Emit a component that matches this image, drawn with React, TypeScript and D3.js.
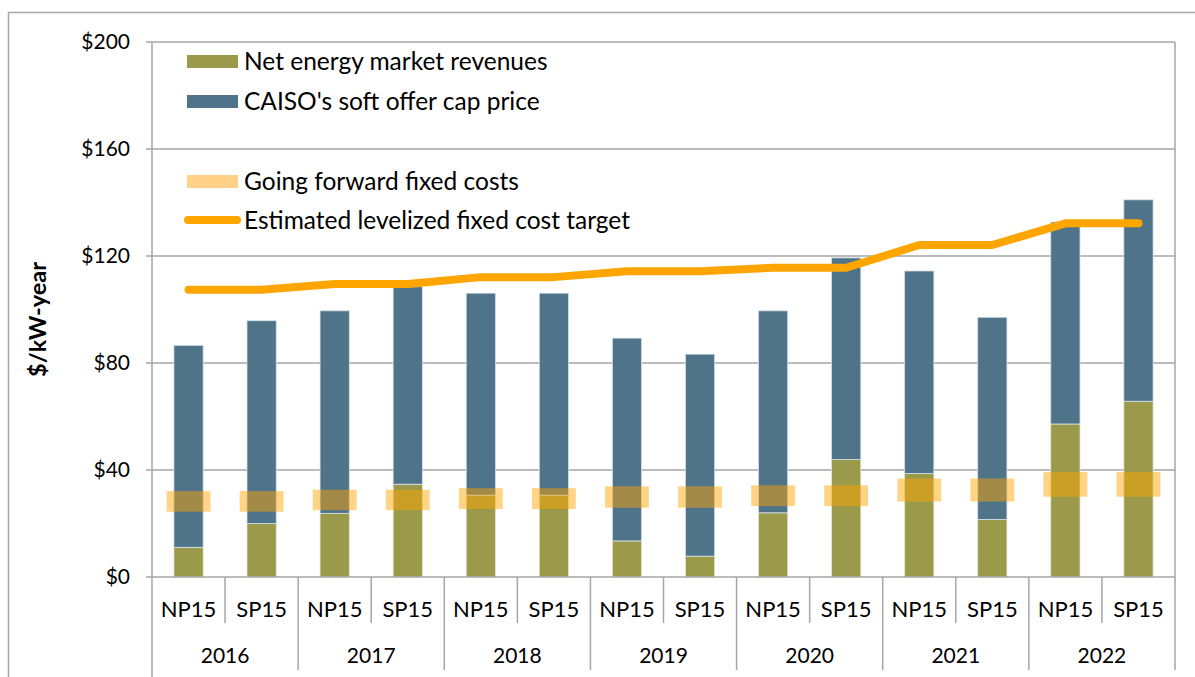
import * as d3 from 'd3';

// categories
const years = ['2016', '2017', '2018', '2019', '2020', '2021', '2022'];
const zones = ['NP15', 'SP15'];

// $/kW-year, one value per year/zone pair (NP15, SP15, NP15, SP15, ...)
const netEnergyRevenues = [11.1, 20.0, 23.8, 34.7, 30.6, 30.6, 13.5, 7.8, 24.0, 43.9, 38.7, 21.5, 57.2, 65.7];
const softOfferCapPrice = [86.6, 95.8, 99.5, 108.5, 106.1, 106.1, 89.3, 83.3, 99.5, 119.3, 114.4, 97.1, 132.7, 141.0];

// per year
const fixedCostLow = [24.4, 25.0, 25.4, 25.9, 26.5, 28.2, 30.0];
const fixedCostHigh = [32.1, 32.6, 33.2, 33.9, 34.3, 36.8, 39.2];
const levelizedTarget = [107.4, 109.5, 112.1, 114.3, 115.6, 124.1, 132.2];

const yTicks = [0, 40, 80, 120, 160, 200];

const OLIVE = '#9b9a4a';
const BLUE = '#4f7489';
const ORANGE = '#ffa500';
const GRID = '#a6a6a6';
const FONT = 'Lato, "Open Sans", sans-serif';

export default function App() {
  const width = 1195;
  const height = 677;
  const margin = { top: 42, right: 20, bottom: 100, left: 152 };
  const plotRight = width - margin.right;
  const plotBottom = height - margin.bottom;

  const cats = years.flatMap(y => zones.map(z => `${y}-${z}`));
  const rows = cats.map((key, i) => {
    const yi = Math.floor(i / 2);
    return {
      key,
      year: years[yi],
      zone: zones[i % 2],
      net: netEnergyRevenues[i],
      cap: softOfferCapPrice[i],
      low: fixedCostLow[yi],
      high: fixedCostHigh[yi],
      target: levelizedTarget[yi],
    };
  });

  const x = d3.scaleBand().domain(cats).range([margin.left, plotRight]).padding(0);
  const y = d3.scaleLinear().domain([0, 200]).range([plotBottom, margin.top]);
  const bw = x.bandwidth();
  const barW = bw * 0.4;
  const boxW = bw * 0.6;
  const cx = (k: string) => (x(k) ?? 0) + bw / 2;

  const line = d3.line<typeof rows[number]>()
    .x(d => cx(d.key))
    .y(d => y(d.target));

  const legend = [
    { label: 'Net energy market revenues', kind: 'rect', color: OLIVE, yy: 61 },
    { label: "CAISO's soft offer cap price", kind: 'rect', color: BLUE, yy: 101 },
    { label: 'Going forward fixed costs', kind: 'rect', color: '#ffd287', yy: 181 },
    { label: 'Estimated levelized fixed cost target', kind: 'line', color: ORANGE, yy: 220 },
  ];

  return (
    <svg
      width={width}
      height={height}
      style={{ position: 'absolute', left: 0, top: 0, background: '#fff', fontFamily: FONT }}
    >
      {/* outer frame */}
      <path d={`M8.5,${height} V12.5 H${width}`} fill="none" stroke={GRID} strokeWidth={1.5} />

      {/* gridlines */}
      {yTicks.filter(t => t > 0).map(t => (
        <line key={t} x1={margin.left} x2={plotRight} y1={y(t)} y2={y(t)} stroke={GRID} strokeWidth={1.5} />
      ))}
      <line x1={plotRight} x2={plotRight} y1={y(200)} y2={plotBottom} stroke={GRID} strokeWidth={1.5} />

      {/* y axis */}
      <line x1={margin.left} x2={margin.left} y1={y(200)} y2={height} stroke={GRID} strokeWidth={1.5} />
      {yTicks.map(t => (
        <g key={t}>
          <line x1={margin.left - 6} x2={margin.left} y1={y(t)} y2={y(t)} stroke={GRID} strokeWidth={1.5} />
          <text x={130} y={y(t)} dy="0.35em" textAnchor="end" fontSize={21} fill="#000">
            {`$${t}`}
          </text>
        </g>
      ))}
      <text
        transform={`translate(46,${(y(0) + y(200)) / 2 + 10}) rotate(-90)`}
        textAnchor="middle"
        fontSize={23.5}
        fontWeight="bold"
        fill="#000"
      >
        $/kW-year
      </text>

      {/* stacked bars */}
      {rows.map(d => (
        <g key={d.key}>
          <rect
            x={cx(d.key) - barW / 2}
            width={barW}
            y={y(d.net)}
            height={y(0) - y(d.net)}
            fill={OLIVE}
            stroke="#e4e8d0"
            strokeWidth={0.8}
          />
          <rect
            x={cx(d.key) - barW / 2}
            width={barW}
            y={y(d.cap)}
            height={y(d.net) - y(d.cap)}
            fill={BLUE}
            stroke="#d5e0e8"
            strokeWidth={0.8}
          />
        </g>
      ))}

      {/* going forward fixed cost range */}
      {rows.map(d => (
        <rect
          key={`fc-${d.key}`}
          x={cx(d.key) - boxW / 2}
          width={boxW}
          y={y(d.high)}
          height={y(d.low) - y(d.high)}
          fill={ORANGE}
          fillOpacity={0.48}
        />
      ))}

      {/* levelized target */}
      <path d={line(rows) ?? ''} fill="none" stroke={ORANGE} strokeWidth={8} strokeLinecap="round" strokeLinejoin="round" />

      {/* category axis */}
      <line x1={margin.left} x2={plotRight} y1={plotBottom} y2={plotBottom} stroke={GRID} strokeWidth={1.5} />
      {rows.map((d, i) => (
        <g key={`ax-${d.key}`}>
          <line
            x1={(x(d.key) ?? 0) + bw}
            x2={(x(d.key) ?? 0) + bw}
            y1={plotBottom}
            y2={i % 2 === 0 ? plotBottom + 46 : height - 7}
            stroke={GRID}
            strokeWidth={1.5}
          />
          <text x={cx(d.key)} y={609} dy="0.35em" textAnchor="middle" fontSize={22} fill="#000">
            {d.zone}
          </text>
        </g>
      ))}
      {years.map(yr => (
        <text
          key={yr}
          x={((x(`${yr}-NP15`) ?? 0) + (x(`${yr}-SP15`) ?? 0) + bw) / 2}
          y={656}
          dy="0.35em"
          textAnchor="middle"
          fontSize={21}
          fill="#000"
        >
          {yr}
        </text>
      ))}

      {/* legend */}
      {legend.map(l => (
        <g key={l.label}>
          {l.kind === 'rect' ? (
            <rect x={187} y={l.yy - 6} width={51} height={13} fill={l.color} />
          ) : (
            <line x1={188} x2={237} y1={l.yy} y2={l.yy} stroke={l.color} strokeWidth={8} strokeLinecap="round" />
          )}
          <text x={244} y={l.yy} dy="0.35em" fontSize={24.5} fill="#000">
            {l.label}
          </text>
        </g>
      ))}
    </svg>
  );
}
